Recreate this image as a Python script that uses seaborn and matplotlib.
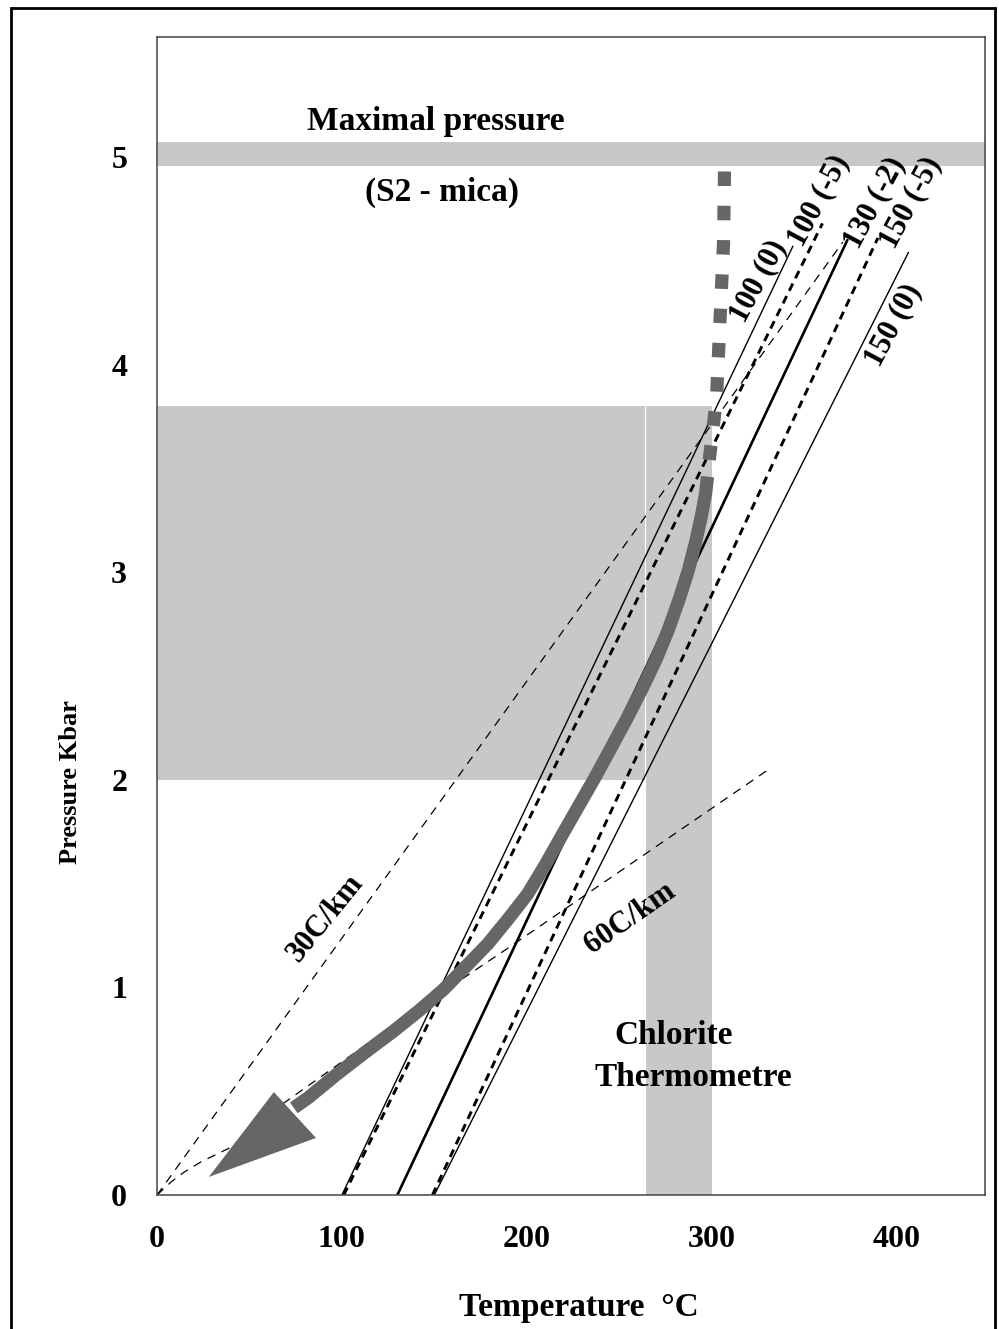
import numpy as np
import matplotlib
matplotlib.use('Agg')
from matplotlib import pyplot as plt
from matplotlib.patches import Rectangle
import seaborn as sns

# values: temperature (C) and pressure (kbar)
iso_labels = ['100 (0)', '100 (-5)', '130 (-2)', '150 (-5)', '150 (0)']
iso_T0 = [100, 101, 130, 149, 150]
iso_T1 = [344, 360, 373.5, 390, 406.5]
iso_P1 = [4.57, 4.68, 4.60, 4.61, 4.54]
iso_kind = ['thin', 'dash', 'thick', 'dash', 'thin']
label_T = [325, 358, 388, 407.6, 398.4]
label_P = [4.40, 4.79, 4.78, 4.78, 4.19]

grad30_T = [0, 371]
grad30_P = [0, 4.59]
grad60_T = [0, 7.6, 14.6, 23.8, 40, 68.6, 131.9, 186, 332]
grad60_P = [0, 0.063, 0.11, 0.16, 0.23, 0.443, 0.843, 1.166, 2.057]

peak_T = [307, 306.5, 304.3, 302.7, 300.5, 297.8]
peak_P = [4.93, 4.59, 4.16, 3.84, 3.67, 3.47]
path_T = [297.8, 296.8, 294.5, 291.5, 287.5, 282.5, 276.5, 270, 262.5, 254.5,
          246, 237.5, 228.5, 219.5, 210, 200.5, 190, 179, 167, 155, 142,
          128, 113, 97, 82, 74]
path_P = [3.46, 3.38, 3.27, 3.15, 3.01, 2.87, 2.72, 2.58, 2.44, 2.30,
          2.16, 2.02, 1.88, 1.74, 1.59, 1.45, 1.33, 1.21, 1.10, 0.99, 0.89,
          0.79, 0.69, 0.58, 0.47, 0.42]
head_T = [63.2, 28, 86]
head_P = [0.496, 0.087, 0.275]

maxp_band = (4.955, 5.07)
pt_box_T = (0, 300)
pt_box_P = (2.0, 3.8)
chl_T = (264, 300)

sns.set_style('white')
plt.rcParams['font.family'] = ['Liberation Serif', 'DejaVu Serif']
plt.rcParams['font.weight'] = 'bold'
for k in ['text.color', 'axes.labelcolor', 'xtick.labelcolor', 'ytick.labelcolor']:
    plt.rcParams[k] = 'black'

fig = plt.figure(figsize=(9.99, 13.29), dpi=100)
ax = fig.add_axes([0.1572, 0.1008, 0.8289, 0.8714])

grey = '#c8c8c8'
dark = '#666666'

# shaded fields
ax.axhspan(*maxp_band, color=grey, lw=0, zorder=0)
ax.fill_between(pt_box_T, pt_box_P[0], pt_box_P[1], color=grey, lw=0, zorder=0)
ax.fill_between(chl_T, 0, pt_box_P[1], color=grey, lw=0, zorder=0)
ax.vlines(chl_T[0], 0, pt_box_P[1], color='white', lw=0.8, zorder=0.5)

# geotherms
sns.lineplot(x=grad30_T, y=grad30_P, sort=False, estimator=None, color='black',
             lw=0.9, linestyle=(0, (7, 5.5)), ax=ax)
sns.lineplot(x=grad60_T, y=grad60_P, sort=False, estimator=None, color='black',
             lw=0.9, linestyle=(0, (7, 5.5)), ax=ax)

# isochores
for t0, t1, p1, kind in zip(iso_T0, iso_T1, iso_P1, iso_kind):
    if kind == 'thin':
        kw = dict(lw=1.0, linestyle='-')
    elif kind == 'thick':
        kw = dict(lw=1.9, linestyle='-')
    else:
        kw = dict(lw=2.1, linestyle=(0, (2.8, 2.0)))
    sns.lineplot(x=[t0, t1], y=[0, p1], sort=False, estimator=None,
                 color='black', ax=ax, **kw)

for lab, t, p in zip(iso_labels, label_T, label_P):
    ax.text(t, p, lab, rotation=62, ha='center', va='center',
            rotation_mode='anchor', fontsize=22, fontweight='bold')

# P-T path
sns.lineplot(x=peak_T, y=peak_P, sort=False, estimator=None, color=dark,
             lw=9.5, linestyle=(0, (1.1, 1.5)), ax=ax)
sns.lineplot(x=path_T, y=path_P, sort=False, estimator=None, color=dark,
             lw=9.5, solid_capstyle='butt', solid_joinstyle='round', ax=ax)
ax.fill(head_T, head_P, color=dark, lw=0, zorder=3)

# annotations
ax.text(150.8, 5.17, 'Maximal pressure', ha='center', va='center', fontsize=24)
ax.text(154, 4.83, '(S2 - mica)', ha='center', va='center', fontsize=24)
ax.text(279.5, 0.77, 'Chlorite', ha='center', va='center', fontsize=24)
ax.text(290.3, 0.564, 'Thermometre', ha='center', va='center', fontsize=24)
ax.text(91.4, 1.334, '30C/km', rotation=51, ha='center', va='center',
        rotation_mode='anchor', fontsize=22)
ax.text(255.7, 1.334, '60C/km', rotation=35, ha='center', va='center',
        rotation_mode='anchor', fontsize=22)

ax.set_xlim(0, 448)
ax.set_ylim(0, 5.578)
ax.set_xticks([0, 100, 200, 300, 400])
ax.set_yticks([0, 1, 2, 3, 4, 5])
ax.tick_params(direction='inout', length=13, width=1.1, color='#444444',
               labelcolor='black', pad=15, labelsize=23)
for s in ax.spines.values():
    s.set_color('#444444')
    s.set_linewidth(1.1)

ax.set_xlabel('Temperature  \u00b0C', fontsize=24, fontweight='bold', color='black')
ax.set_ylabel('Pressure Kbar', fontsize=19, fontweight='bold', color='black')
ax.xaxis.set_label_coords(0.51, -0.0838)
ax.yaxis.set_label_coords(-0.0906, 0.357)

fig.add_artist(Rectangle((0.011, -0.01), 0.985, 1.004, transform=fig.transFigure,
                         fill=False, lw=2, ec='black'))

fig.savefig('out.png', dpi=100)
